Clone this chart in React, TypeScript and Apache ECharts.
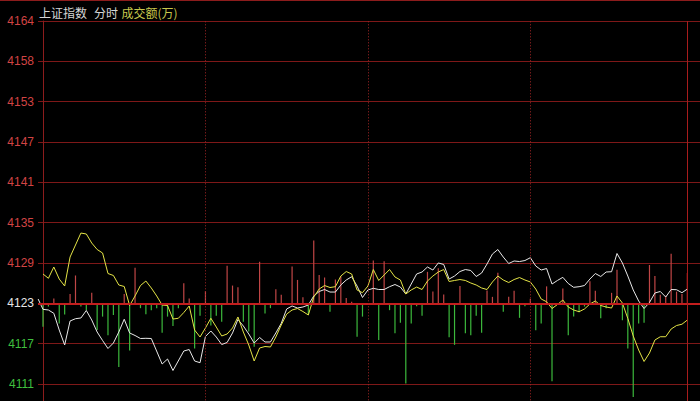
import React, { useEffect, useRef } from "react";
import * as echarts from "echarts";

// ---- data (slot = 2-minute bucket of the trading day) ----
const preClose = 4123.0;
const yStep = 5.9;
const yMin = 4105.3;
const yMax = 4164.3;
const hourSlots = [30, 60, 90];
const lastSlot = 119;

const titleTexts = ["上证指数", "分时", "成交额(万)"];

// white line: index price [slot, value]
const indexLine: [number, number][] = [
  [-0.9, 4123.63], [0, 4122.12], [1, 4122.02], [2, 4121.54], [3, 4119.09], [4, 4116.9], [5, 4120.41], [6, 4120.75],
  [7, 4120.85], [8, 4121.95], [9, 4120.56], [10, 4118.8], [11, 4117.56], [12, 4116.39], [13, 4117.19], [14, 4118.8],
  [15, 4120.67], [16, 4118.66], [17, 4118.29], [18, 4117.85], [19, 4117.88], [20, 4117.85], [22, 4114.12], [23, 4114.85],
  [24, 4113.17], [26, 4116.02], [27, 4116.24], [28, 4114.56], [29, 4114.31], [30, 4118.14], [31, 4118.95], [32, 4118.07],
  [33, 4116.97], [34, 4117.27], [35, 4118.66], [36, 4120.63], [37, 4119.68], [38, 4118.51], [39, 4117.19], [40, 4118.0],
  [41, 4117.34], [42, 4117.34], [43, 4118.66], [44, 4120.07], [45, 4122.17], [46, 4122.61], [47, 4122.31], [48, 4122.46],
  [49, 4122.75], [50, 4124.07], [51, 4124.73], [52, 4125.02], [53, 4124.65], [54, 4124.65], [55, 4125.68], [56, 4126.41],
  [57, 4126.89], [58, 4125.53], [59, 4123.85], [60, 4124.95], [61, 4125.19], [62, 4125.02], [63, 4125.02], [64, 4125.43],
  [65, 4125.75], [66, 4125.38], [67, 4124.36], [68, 4125.82], [69, 4127.29], [70, 4127.58], [71, 4128.31], [72, 4127.87],
  [73, 4128.9], [74, 4128.68], [75, 4126.55], [76, 4126.99], [77, 4127.65], [78, 4127.94], [79, 4127.8], [80, 4126.92],
  [81, 4127.43], [82, 4128.75], [83, 4130.21], [84, 4130.87], [85, 4129.77], [86, 4128.82], [87, 4129.19], [88, 4129.11],
  [89, 4129.26], [90, 4129.67], [91, 4128.46], [92, 4127.87], [93, 4128.09], [94, 4125.82], [95, 4126.34], [96, 4126.8],
  [97, 4125.9], [98, 4125.34], [99, 4125.43], [100, 4125.6], [101, 4126.55], [102, 4127.36], [103, 4126.92], [104, 4127.58],
  [105, 4127.62], [106, 4130.29], [107, 4128.9], [108, 4126.99], [109, 4124.95], [110, 4123.34], [111, 4122.24], [112, 4123.12],
  [113, 4124.51], [114, 4124.73], [115, 4123.92], [116, 4125.02], [117, 4124.99], [118, 4124.55], [119, 4125.09],
];

// yellow line [slot, value]
const leadLine: [number, number][] = [
  [0, 4127.29], [1, 4126.66], [2, 4128.31], [3, 4126.55], [4, 4125.53], [5, 4129.77], [7, 4133.28], [8, 4133.14],
  [9, 4131.82], [10, 4130.87], [11, 4130.36], [12, 4127.36], [13, 4127.07], [14, 4125.68], [15, 4125.46], [16, 4122.68],
  [17, 4124.07], [18, 4125.6], [19, 4126.26], [20, 4125.24], [21, 4124.07], [22, 4122.75], [23, 4122.68], [24, 4120.7],
  [25, 4120.81], [26, 4121.65], [27, 4122.61], [28, 4119.09], [29, 4118.07], [30, 4119.39], [31, 4120.81], [32, 4119.53],
  [33, 4118.22], [34, 4118.51], [35, 4119.39], [36, 4121.0], [37, 4118.8], [38, 4116.9], [39, 4114.56], [40, 4116.46],
  [41, 4116.68], [42, 4116.61], [43, 4118.07], [44, 4119.83], [45, 4121.43], [46, 4122.02], [47, 4122.24], [48, 4121.8],
  [49, 4121.29], [50, 4123.92], [51, 4125.09], [52, 4125.6], [53, 4125.31], [54, 4125.43], [55, 4126.99], [56, 4127.65],
  [57, 4127.29], [58, 4124.95], [59, 4124.55], [60, 4125.53], [61, 4127.94], [62, 4126.34], [63, 4127.14], [64, 4127.94],
  [65, 4126.85], [66, 4126.41], [67, 4124.36], [68, 4124.95], [69, 4125.38], [70, 4125.02], [71, 4126.26], [72, 4126.99],
  [73, 4127.58], [74, 4127.94], [75, 4126.19], [76, 4126.34], [77, 4126.48], [78, 4126.34], [79, 4125.97], [80, 4125.68],
  [81, 4125.24], [82, 4125.02], [83, 4126.12], [84, 4126.99], [85, 4126.41], [86, 4126.04], [87, 4126.48], [88, 4126.77],
  [89, 4126.41], [90, 4126.12], [91, 4125.09], [92, 4123.63], [93, 4123.23], [94, 4122.24], [95, 4122.82], [96, 4123.48],
  [97, 4122.46], [98, 4122.02], [99, 4121.77], [100, 4122.17], [101, 4122.9], [102, 4123.34], [103, 4122.68], [104, 4122.46],
  [105, 4122.31], [106, 4124.07], [107, 4123.04], [108, 4120.78], [109, 4118.22], [110, 4116.17], [111, 4114.49], [112, 4115.73],
  [113, 4117.63], [114, 4118.11], [115, 4118.11], [116, 4119.24], [117, 4119.75], [118, 4119.94], [119, 4120.56],
];

// signed turnover bars per slot (万), null = no bar
const amountBars: (number | null)[] = [
  -58, -8, 12, -50, -28, 23, 69, -8, -17, 26,
  -66, -33, -79, -29, -158, 23, -117, 88, -12, -27,
  -17, -12, -73, -33, -56, -12, 50, 12, -112, -31,
  30, -55, -31, -46, 93, 44, 40, -46, -70, -108,
  103, -25, -12, 35, 21, null, 91, 58, 15, -28,
  156, 70, 64, -21, 59, 67, 13, 4, -83, -33,
  null, 106, -91, 104, -17, -74, -48, -199, -50, -7,
  -31, 78, 29, 87, 22, -84, -103, 43, -74, -79,
  -31, -73, 32, 16, 76, -21, 16, 31, -36, -7,
  11, -67, -50, 42, -193, null, 37, -79, -33, -22,
  -8, 55, 31, -37, -12, 26, 83, -42, -112, -232,
  -50, -48, 95, 68, 21, 19, 123, 29, 23, 75,
];
const amountMin = -300;
const amountMax = 700;

const CHART_W = 700;
const CHART_H = 425;

export default function App() {
  const ref = useRef<HTMLDivElement>(null);

  useEffect(() => {
    if (!ref.current) return;
    document.body.style.margin = "0";
    document.body.style.background = "#000";
    document.body.style.overflow = "hidden";
    const chart = echarts.init(ref.current, null, { renderer: "svg", width: CHART_W, height: CHART_H });

    const red = "#d24444";
    const green = "#3fbf3f";

    const option: any = {
      animation: false,
      backgroundColor: "#000",
      grid: { left: 38, right: 0, top: 21, bottom: 0.7, containLabel: false },
      xAxis: {
        type: "value",
        min: -0.923,
        max: 121.33,
        show: false,
        splitLine: { show: false },
      },
      yAxis: [
        {
          type: "value",
          min: yMin,
          max: yMax,
          interval: yStep,
          position: "left",
          axisLine: { show: true, lineStyle: { color: "#8c1c1c", width: 1 } },
          axisTick: { show: false },
          splitLine: { show: true, lineStyle: { color: "#7e1818", width: 1 } },
          axisLabel: {
            margin: 4,
            fontSize: 12,
            showMinLabel: false,
            fontFamily: "Liberation Sans, Arial, sans-serif",
            formatter: (v: number) => String(Math.round(v + 1e-6)),
            color: (v: any) => {
              const n = Number(v);
              if (n > preClose + 0.1) return red;
              if (n < preClose - 0.1) return green;
              return "#e6e6e6";
            },
          },
        },
        {
          type: "value",
          min: amountMin,
          max: amountMax,
          show: false,
          splitLine: { show: false },
        },
      ],
      series: [
        {
          type: "bar",
          yAxisIndex: 1,
          barWidth: 1.2,
          silent: true,
          data: amountBars.map((v, i) => [i, v]),
          itemStyle: {
            color: (p: any) => {
              const v = p.value[1];
              if (p.dataIndex === lastSlot) return "#ff2a2a";
              return v >= 0 ? "#c04646" : "#3cb83c";
            },
          },
        },
        {
          type: "line",
          data: indexLine,
          showSymbol: false,
          silent: true,
          lineStyle: { color: "#e8e8e8", width: 1 },
          markLine: {
            silent: true,
            symbol: ["none", "none"],
            label: { show: false },
            data: [
              { yAxis: preClose, lineStyle: { color: "#c41e1e", width: 2, type: "solid" } },
              ...hourSlots.map((s) => ({
                xAxis: s,
                lineStyle: { color: "#a42626", width: 1, type: [1, 2] },
              })),
              { xAxis: lastSlot, lineStyle: { color: "#a81c1c", width: 1, type: "solid" } },
            ],
          },
        },
        {
          type: "line",
          data: leadLine,
          showSymbol: false,
          silent: true,
          lineStyle: { color: "#e4e446", width: 1 },
        },
      ],
      graphic: [
        {
          type: "line",
          shape: { x1: 0, y1: 0.5, x2: 700, y2: 0.5 },
          style: { stroke: "#8c1c1c", lineWidth: 1 },
        },
        {
          type: "text",
          x: 39,
          y: 12,
          style: {
            text: titleTexts[0],
            fill: "#d6d6d6",
            font: "12px 'Noto Sans CJK SC'",
            textVerticalAlign: "middle",
          },
        },
        {
          type: "text",
          x: 94,
          y: 12,
          style: {
            text: titleTexts[1],
            fill: "#d6d6d6",
            font: "12px 'Noto Sans CJK SC'",
            textVerticalAlign: "middle",
          },
        },
        {
          type: "text",
          x: 121.5,
          y: 12,
          style: {
            text: titleTexts[2],
            fill: "#c8c84e",
            font: "12px 'Noto Sans CJK SC'",
            textVerticalAlign: "middle",
          },
        },
      ],
    };

    chart.setOption(option);
    return () => chart.dispose();
  }, []);

  return (
    <div
      ref={ref}
      style={{ position: "fixed", left: 0, top: 0, width: CHART_W, height: CHART_H, background: "#000" }}
    />
  );
}
